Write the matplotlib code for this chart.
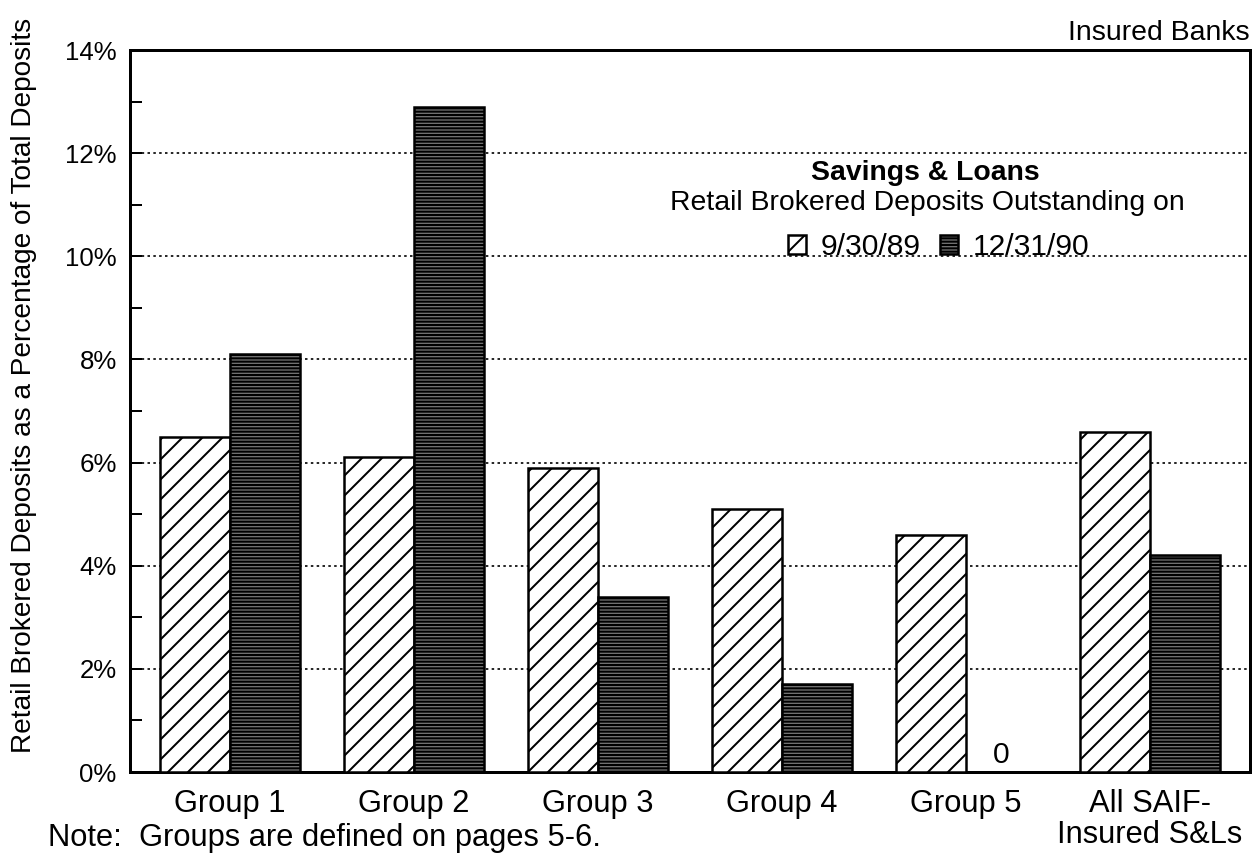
import numpy as np
import matplotlib
matplotlib.use("Agg")
import matplotlib.pyplot as plt
from matplotlib.patches import Patch
from matplotlib.ticker import MultipleLocator, FuncFormatter

# retail brokered deposits as % of total deposits, savings & loans
groups = ["Group 1", "Group 2", "Group 3", "Group 4", "Group 5", "All SAIF-\nInsured S&Ls"]
sep_1989 = [6.5, 6.1, 5.9, 5.1, 4.6, 6.6]     # 9/30/89
dec_1990 = [8.1, 12.9, 3.4, 1.7, 0.0, 4.2]    # 12/31/90
series_labels = ["9/30/89", "12/31/90"]

plt.rcParams['font.family'] = ['Liberation Sans', 'DejaVu Sans']
plt.rcParams['hatch.linewidth'] = 1.2

DPI = 120
fig = plt.figure(figsize=(1259 / DPI, 860 / DPI), dpi=DPI)
ax = fig.add_axes([130 / 1259, 1 - 772 / 860, 1120 / 1259, 722 / 860])

x = np.arange(len(groups))
w = 0.38
hatched_style = dict(facecolor='white', edgecolor='black', hatch='//', linewidth=1.5)
dark_style = dict(facecolor='#707070', edgecolor='black', hatch='------', linewidth=1.5)

ax.bar(x - w / 2, sep_1989, w, zorder=3, **hatched_style)
ax.bar(x + w / 2, dec_1990, w, zorder=3, **dark_style)

# zero-valued bars get their value written in
for xi, v in zip(x, dec_1990):
    if v == 0:
        ax.annotate(f"{v:g}", (xi + w / 2, v), xytext=(0, 2), textcoords='offset points',
                    ha='center', va='bottom', fontsize=18)

ax.set_xlim(-0.543, len(groups) - 1 + 0.543)
ax.set_ylim(0, 14)

ax.yaxis.set_major_locator(MultipleLocator(2))
ax.yaxis.set_minor_locator(MultipleLocator(1))
ax.yaxis.set_major_formatter(FuncFormatter(lambda v, p: f"{v:.0f}%"))
ax.tick_params(axis='y', which='both', direction='in', length=7, width=1.2,
               labelsize=15.5, pad=8, right=False)
ax.set_xticks(x)
ax.set_xticklabels(groups, fontsize=18.5, linespacing=1.05)
ax.tick_params(axis='x', length=0, pad=10)

for yv in range(2, 14, 2):
    ax.axhline(yv, color='black', lw=1.0, ls=(0, (1.5, 2.0)), zorder=1)

for s in ax.spines.values():
    s.set_linewidth(1.8)

ax.set_ylabel("Retail Brokered Deposits as a Percentage of Total Deposits", fontsize=16.8)
ax.yaxis.set_label_coords(-0.083, 0.536)

# legend block
ax.text(0.71, 0.830, "Savings & Loans", transform=ax.transAxes, ha='center', va='center',
        fontsize=17, fontweight='bold')
ax.text(0.712, 0.788, "Retail Brokered Deposits Outstanding on", transform=ax.transAxes,
        ha='center', va='center', fontsize=17)
handles = [Patch(**hatched_style), Patch(**dark_style)]
ax.legend(handles, series_labels, loc='center', bbox_to_anchor=(0.722, 0.727), ncol=2,
          frameon=False, fontsize=18, handlelength=0.6, handleheight=0.6,
          handletextpad=0.5, columnspacing=0.65)

fig.text(1250 / 1259, 1 - 33 / 860, "Insured Banks", ha='right', va='center', fontsize=17)
fig.text(48 / 1259, 1 - 838 / 860, "Note:  Groups are defined on pages 5-6.",
         ha='left', va='center', fontsize=18.5)

fig.savefig("out.png", dpi=DPI)
